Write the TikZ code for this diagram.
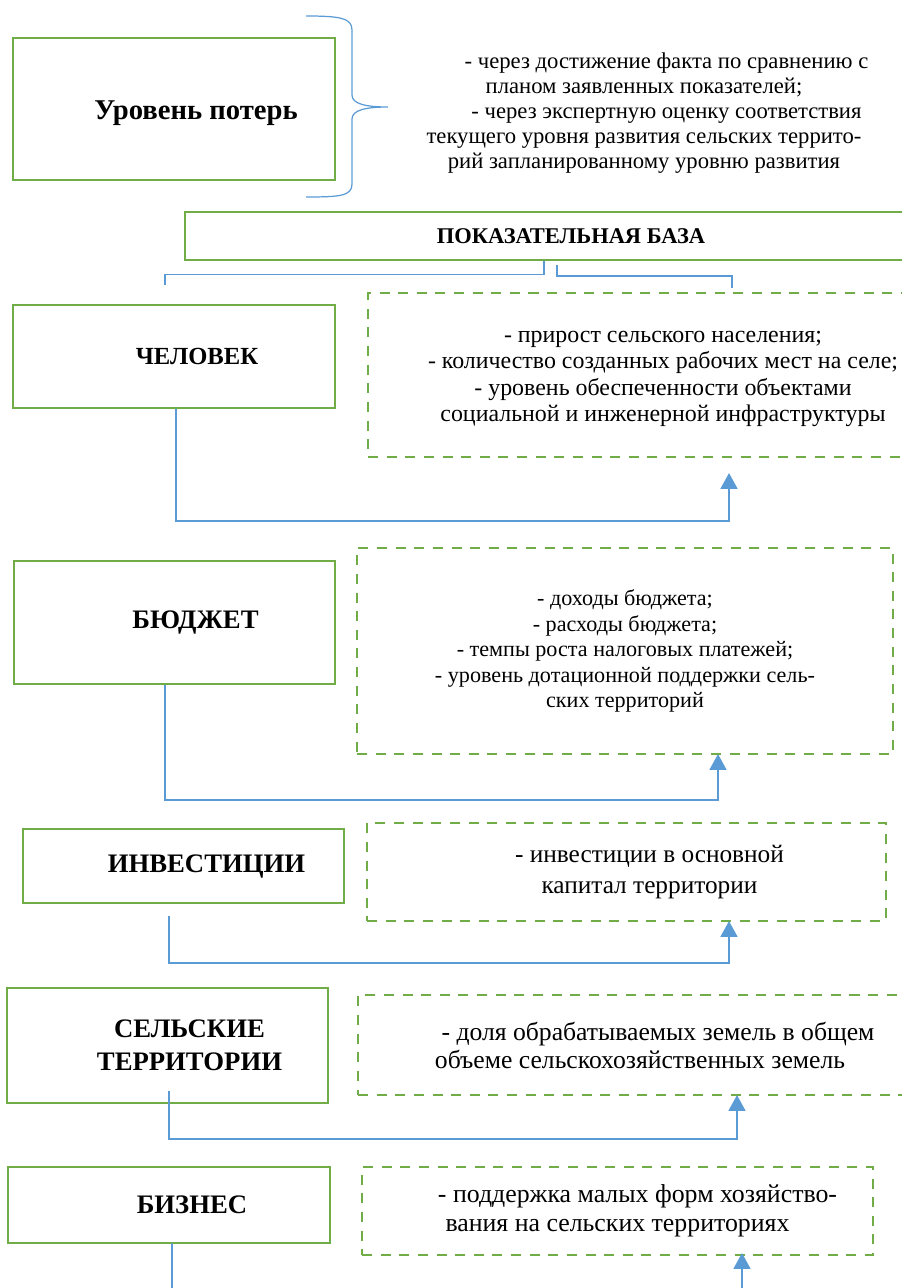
\documentclass[tikz,border=0pt]{standalone}
\usepackage{fontspec}
\setmainfont{Liberation Serif}
\usetikzlibrary{arrows.meta}

\definecolor{boxgreen}{RGB}{112,173,71}
\definecolor{linkblue}{RGB}{91,155,213}
\newcommand\headfont{\fontsize{15.2}{18.7}\selectfont\bfseries}

\tikzset{
  lbox/.style={draw=boxgreen,line width=1.5pt,inner sep=0pt},
  ibox/.style={draw=boxgreen,line width=1.6pt,dash pattern=on 5.7pt off 4.9pt,inner sep=0pt,align=center},
  thinlink/.style={draw=linkblue,line width=0.7pt},
  link/.style={draw=linkblue,line width=1.3pt},
  uplink/.style={link,-{Triangle[width=9.5pt,length=9pt]}},
}

\begin{document}
\begin{tikzpicture}[x=0.02cm,y=-0.02cm]
\useasboundingbox (0,0) rectangle (902,1288);

% top block
\node[lbox,minimum width=6.44cm,minimum height=2.84cm,label={[xshift=0.44cm,yshift=-0.08cm,font=\fontsize{16.3}{19}\selectfont\bfseries]center:Уровень потерь}] (loss) at (174,109) {};
\draw[thinlink] (306,16) .. controls (340,16) and (352,18) .. (352,30) -- (352,95) .. controls (352,104) and (366,107) .. (388,107) .. controls (366,107) and (352,110) .. (352,119) -- (352,184) .. controls (352,196) and (340,197) .. (306,197);
\node[align=center,font=\fontsize{12.9}{14.2}\selectfont] (ways) at (644,113) {\hspace*{0.9cm}- через достижение факта по сравнению с\\ планом заявленных показателей;\\ \hspace*{0.9cm}- через экспертную оценку соответствия\\ текущего уровня развития сельских террито-\\ рий запланированному уровню развития};

\node[lbox,minimum width=15.44cm,minimum height=0.96cm,label={[font=\fontsize{12.8}{15}\selectfont\bfseries]center:ПОКАЗАТЕЛЬНАЯ БАЗА}] (base) at (571,236) {};
\coordinate (forkA) at (544,0);
\coordinate (endA) at (165,285);
\draw[thinlink] (base.south -| forkA) -- ++(0,13) -| (endA);
\coordinate (startB) at (557,265);
\coordinate (endB) at (732,288);
\draw[thinlink] (startB) -- ++(0,11) -| (endB);

% human
\node[lbox,minimum width=6.44cm,minimum height=2.06cm,label={[xshift=0.46cm,font=\fontsize{14}{17}\selectfont\bfseries]center:ЧЕЛОВЕК}] (chel) at (174,356.5) {};
\node[ibox,minimum width=11.8cm,minimum height=3.28cm] (info1) at (663,375) {};
\node[align=center,font=\fontsize{13.6}{15}\selectfont] (info1txt) at (663,379) {- прирост сельского населения;\\ - количество созданных рабочих мест на селе;\\ - уровень обеспеченности объектами\\ социальной и инженерной инфраструктуры};
\coordinate (tip1) at (729,473);
\draw[uplink] ([xshift=0.04cm]chel.south) -- ++(0,112) -| (tip1);

% budget
\node[lbox,minimum width=6.42cm,minimum height=2.46cm,label={[xshift=0.42cm,font=\headfont]center:БЮДЖЕТ}] (budg) at (174.5,622.5) {};
\node[ibox,minimum width=10.72cm,minimum height=4.12cm,font=\fontsize{12.6}{14.5}\selectfont] (info2) at (625,651) {- доходы бюджета;\\ - расходы бюджета;\\ - темпы роста налоговых платежей;\\ - уровень дотационной поддержки сель-\\ ских территорий};
\coordinate (tip2) at (718,754);
\draw[uplink] ([xshift=-0.19cm]budg.south) -- ++(0,115) -| (tip2);

% investments
\node[lbox,minimum width=6.42cm,minimum height=1.48cm,label={[xshift=0.46cm,font=\headfont]center:ИНВЕСТИЦИИ}] (inv) at (183.5,866) {};
\node[ibox,minimum width=10.38cm,minimum height=1.96cm,font=\fontsize{14.4}{17.6}\selectfont] (info3) at (626.5,872) {\hspace*{0.92cm}- инвестиции в основной\\ \hspace*{0.92cm}капитал территории};
\coordinate (tip3) at (729,921);
\draw[uplink] ([xshift=-0.29cm,yshift=-0.24cm]inv.south) -- ++(0,47) -| (tip3);

% rural territories
\node[lbox,minimum width=6.42cm,minimum height=2.30cm,label={[xshift=0.44cm,align=center,font=\headfont]center:СЕЛЬСКИЕ\\ТЕРРИТОРИИ}] (sel) at (167.5,1045.5) {};
\node[ibox,minimum width=11.28cm,minimum height=2cm,font=\fontsize{14.6}{15.9}\selectfont] (info4) at (640,1045) {\hspace*{0.72cm}- доля обрабатываемых земель в общем\\ объеме сельскохозяйственных земель};
\coordinate (tip4) at (737,1095);
\draw[uplink] ([xshift=0.03cm,yshift=0.26cm]sel.south) -- ++(0,48) -| (tip4);

% business
\node[lbox,minimum width=6.44cm,minimum height=1.52cm,label={[xshift=0.46cm,font=\headfont]center:БИЗНЕС}] (biz) at (169,1205) {};
\node[ibox,minimum width=10.22cm,minimum height=1.76cm,font=\fontsize{14.7}{16.4}\selectfont] (info5) at (617.5,1211) {\hspace*{0.8cm}- поддержка малых форм хозяйство-\\ вания на сельских территориях};
\coordinate (out5) at (172,1292);
\coordinate (tip5) at (742,1253);
\draw[link] ([xshift=0.06cm]biz.south) -- (biz.south -| out5) -- (out5);
\draw[uplink] (tip5 |- out5) -- (tip5);

\end{tikzpicture}
\end{document}
